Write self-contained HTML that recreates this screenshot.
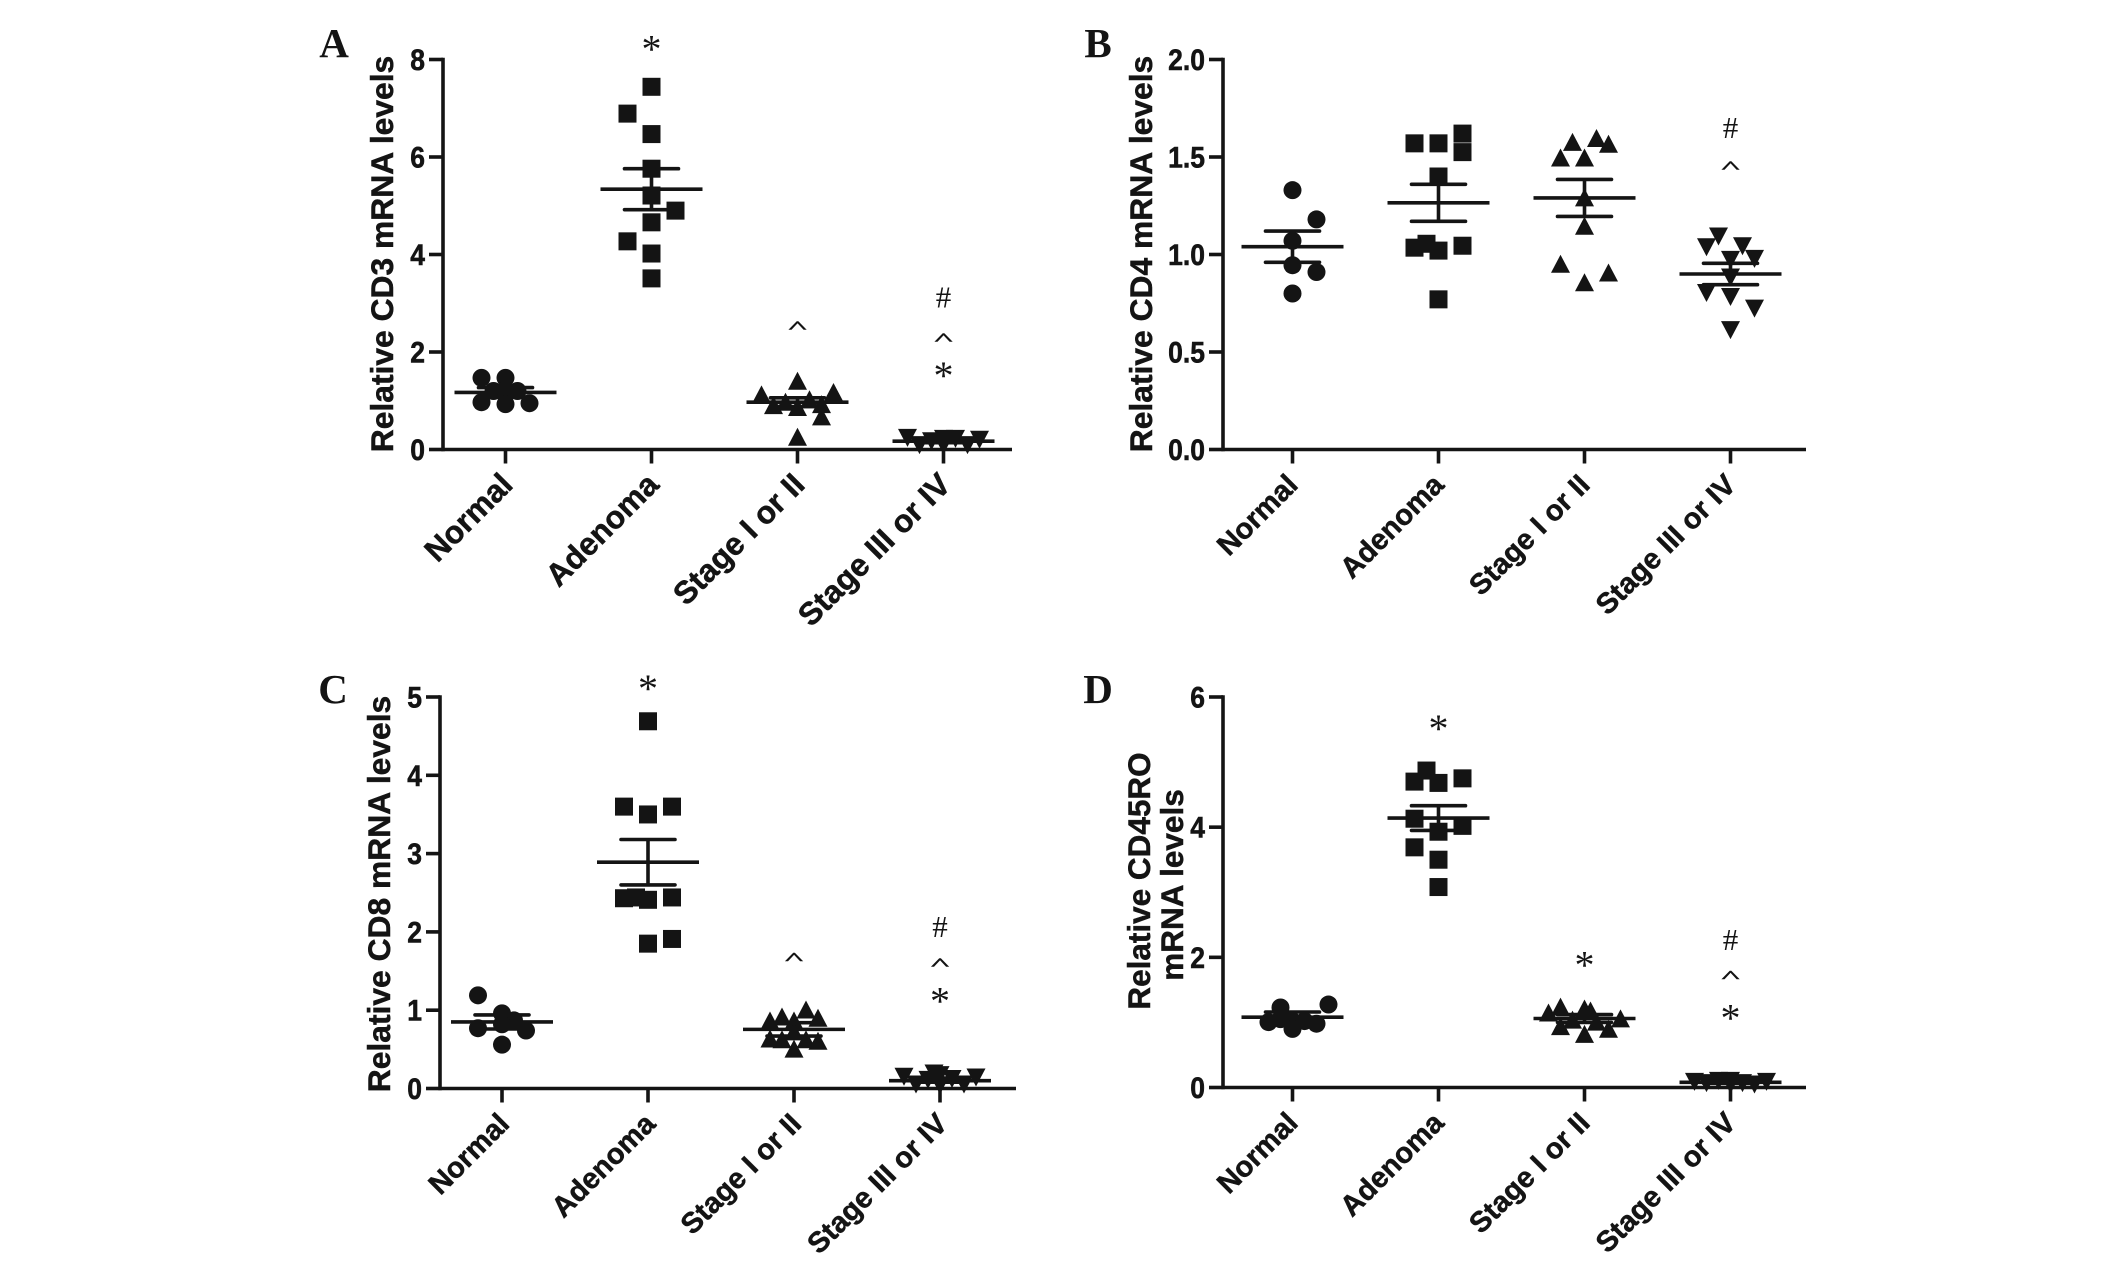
<!DOCTYPE html>
<html lang="en">
<head>
<meta charset="utf-8">
<title>Relative mRNA levels</title>
<style>
html,body{margin:0;padding:0;background:#fff;}
svg{display:block;}
text{fill:#141414;}
.tick{font:bold 26.5px "Liberation Sans",sans-serif;stroke:#141414;stroke-width:.5px;}
.title{font:bold 31.8px "Liberation Sans",sans-serif;stroke:#141414;stroke-width:.5px;}
.cat{font:bold 28px "Liberation Sans",sans-serif;stroke:#141414;stroke-width:.5px;}
.letter{font:bold 41px "Liberation Serif",serif;}
.mark{font-family:"Liberation Serif",serif;}
</style>
</head>
<body>
<svg id="figure" width="2126" height="1278" viewBox="0 0 2126 1278" xmlns="http://www.w3.org/2000/svg">
  <rect width="2126" height="1278" fill="#fff"/>
  <g id="panel-a"></g>
  <g id="panel-b"></g>
  <g id="panel-c"></g>
  <g id="panel-d"></g>
</svg>
<script>
// Shared category labels
const categories = ['Normal', 'Adenoma', 'Stage I or II', 'Stage III or IV'];

// Panel A: CD3
const aTicks = [0, 2, 4, 6, 8];
const aNormal = [1.47, 1.47, 1.2, 1.2, 1.22, 0.97, 0.93, 0.95];
const aNormalSlots = [-1, 0, -0.5, 0.5, 0, -1, 0, 1];
const aAdenoma = [7.44, 6.89, 6.47, 5.76, 5.21, 4.9, 4.66, 4.27, 4.02, 3.51];
const aAdenomaSlots = [0, -1, 0, 0, 0, 1, 0, -1, 0, 0];
const aEarly = [1.38, 1.15, 1.1, 1.0, 0.95, 0.9, 0.88, 0.84, 0.65, 0.23];
const aEarlySlots = [0, 1.5, -1.5, 0.5, -0.5, 1, -1, 0, 1, 0];
const aLate = [0.27, 0.25, 0.25, 0.23, 0.2, 0.12, 0.12, 0.12];
const aLateSlots = [-1.5, 0, 0.5, 1.5, -0.5, -1, 1, 0];
const aMeans = [1.17, 5.34, 0.97, 0.17];
const aSems = [0.1, 0.42, 0.09, 0.03];
const aMarkText = ['*', '^', '#', '^', '*'];
const aMarkCategory = [1, 2, 3, 3, 3];
const aMarkValue = [8.33, 2.54, 3.12, 2.3, 1.63];

// Panel B: CD4
const bTicks = [0, 0.5, 1, 1.5, 2];
const bNormal = [1.33, 1.18, 1.07, 0.945, 0.91, 0.8];
const bNormalSlots = [0, 1, 0, 0, 1, 0];
const bAdenoma = [1.62, 1.57, 1.57, 1.525, 1.4, 1.055, 1.045, 1.035, 1.02, 0.77];
const bAdenomaSlots = [1, -1, 0, 1, 0, -0.5, 1, -1, 0, 0];
const bEarly = [1.59, 1.57, 1.56, 1.49, 1.49, 1.285, 1.14, 0.945, 0.9, 0.85];
const bEarlySlots = [0.5, -0.5, 1, -1, 0, 0, 0, -1, 1, 0];
const bLate = [1.1, 1.05, 1.045, 0.985, 0.98, 0.89, 0.81, 0.79, 0.73, 0.62];
const bLateSlots = [-0.5, 0.5, -1, 1, 0, 0, -1, 0, 1, 0];
const bMeans = [1.04, 1.265, 1.29, 0.9];
const bSems = [0.08, 0.095, 0.095, 0.055];
const bMarkText = ['#', '^'];
const bMarkCategory = [3, 3];
const bMarkValue = [1.65, 1.457];

// Panel C: CD8
const cTicks = [0, 1, 2, 3, 4, 5];
const cNormal = [1.19, 0.96, 0.87, 0.82, 0.77, 0.74, 0.56];
const cNormalSlots = [-1, 0, 0.5, 0, -1, 1, 0];
const cAdenoma = [4.69, 3.6, 3.6, 3.5, 2.44, 2.44, 2.43, 2.41, 1.91, 1.85];
const cAdenomaSlots = [0, -1, 1, 0, -0.5, 1, -1, 0, 1, 0];
const cEarly = [0.99, 0.9, 0.885, 0.85, 0.85, 0.71, 0.62, 0.61, 0.61, 0.59, 0.49];
const cEarlySlots = [0.5, -0.5, 1, -1, 0, 0, -1, -0.5, 0.5, 1, 0];
const cLate = [0.21, 0.19, 0.17, 0.16, 0.14, 0.13, 0.07, 0.07, 0.06];
const cLateSlots = [-0.25, 0, -1.5, 1.5, 0.5, -0.5, -1, 1, 0];
const cMeans = [0.85, 2.89, 0.755, 0.1];
const cSems = [0.09, 0.29, 0.085, 0.02];
const cMarkText = ['*', '^', '#', '^', '*'];
const cMarkCategory = [1, 2, 3, 3, 3];
const cMarkValue = [5.18, 1.68, 2.06, 1.61, 1.19];

// Panel D: CD45RO
const dTicks = [0, 2, 4, 6];
const dNormal = [1.275, 1.23, 1.05, 1.02, 1.02, 1.005, 0.98, 0.9];
const dNormalSlots = [1.5, -0.5, -0.5, 0, 0.5, -1, 1, 0];
const dAdenoma = [4.87, 4.75, 4.7, 4.68, 4.13, 4.02, 3.93, 3.69, 3.5, 3.08];
const dAdenomaSlots = [-0.5, 1, -1, 0, -1, 1, 0, -1, 0, 0];
const dEarly = [1.22, 1.19, 1.16, 1.13, 1.04, 1.02, 0.99, 0.92, 0.88, 0.8];
const dEarlySlots = [-1, 0, 0.25, -1.5, 1.5, -0.5, 0.5, -1, 1, 0];
const dLate = [0.125, 0.125, 0.11, 0.11, 0.09, 0.09, 0.07, 0.07];
const dLateSlots = [-0.5, 0, -1.5, 1.5, 0.5, -1, 1, 0];
const dMeans = [1.08, 4.14, 1.06, 0.08];
const dSems = [0.08, 0.19, 0.06, 0.015];
const dMarkText = ['*', '*', '#', '^', '*'];
const dMarkCategory = [1, 2, 3, 3, 3];
const dMarkValue = [5.6, 1.97, 2.27, 1.73, 1.15];

const NS = 'http://www.w3.org/2000/svg';
const INK = '#141414';

function make(tag, attrs, parent) {
  const el = document.createElementNS(NS, tag);
  for (const k in attrs) el.setAttribute(k, attrs[k]);
  parent.appendChild(el);
  return el;
}

function drawMarker(parent, shape, cx, cy) {
  let el;
  if (shape === 'circle') {
    el = make('circle', {cx: cx, cy: cy, r: 9, fill: INK}, parent);
  } else if (shape === 'square') {
    el = make('rect', {x: cx - 9, y: cy - 9, width: 18, height: 18, fill: INK}, parent);
  } else if (shape === 'up') {
    el = make('polygon', {points: [[cx, cy - 10.5], [cx + 9.5, cy + 7.5], [cx - 9.5, cy + 7.5]].join(' '), fill: INK}, parent);
  } else {
    el = make('polygon', {points: [[cx, cy + 10.5], [cx + 9.5, cy - 7.5], [cx - 9.5, cy - 7.5]].join(' '), fill: INK}, parent);
  }
  
  
}

function drawPanel(p) {
  const g = document.getElementById(p.id);
  const yOf = v => p.bottom - (v / p.ticks[p.ticks.length - 1]) * (p.bottom - p.top);
  const xOf = (cat, slot) => p.cat0 + p.catStep * cat + (slot || 0) * 24;
  const W = 3.6;

  const letter = make('text', {x: p.letterX, y: p.letterY, 'text-anchor': 'middle', class: 'letter'}, g);
  
  
  letter.textContent = p.letter;

  const yAxis = make('line', {x1: p.left, x2: p.left, y1: p.top - 1.8, y2: p.bottom + 1.8, stroke: INK, 'stroke-width': W}, g);
  
  
  const xAxis = make('line', {x1: p.left, x2: p.right, y1: p.bottom, y2: p.bottom, stroke: INK, 'stroke-width': W}, g);
  
  

  p.ticks.forEach(t => {
    const y = yOf(t);
    const tk = make('line', {x1: p.left - 14, x2: p.left, y1: y, y2: y, stroke: INK, 'stroke-width': W}, g);
    
    
    const lb = make('text', {
      transform: 'translate(' + (p.left - 18) + ',' + (y + 10.5) + ') scale(1,1.12)',
      'text-anchor': 'end', class: 'tick'
    }, g);
    
    
    lb.textContent = p.tickFormat(t);
  });

  p.titleLines.forEach((line, i) => {
    const t = make('text', {
      transform: 'translate(' + line.x + ',' + line.y + ') rotate(-90)',
      'text-anchor': 'middle', class: 'title', style: 'font-size:' + line.size + 'px'
    }, g);
    
    
    t.textContent = line.text;
  });

  categories.forEach((c, i) => {
    const x = xOf(i);
    const tk = make('line', {x1: x, x2: x, y1: p.bottom, y2: p.bottom + 14, stroke: INK, 'stroke-width': W}, g);
    
    
    const lb = make('text', {
      transform: 'translate(' + (x + p.catOffset) + ',' + (p.bottom + 37) + ') rotate(-45)',
      'text-anchor': 'end', class: 'cat', style: 'font-size:' + p.catSize + 'px'
    }, g);
    
    
    lb.textContent = c;
  });

  p.series.forEach((s, i) => {
    s.values.forEach((v, j) => drawMarker(g, s.shape, xOf(i, s.slots[j]), yOf(v)));
  });

  p.means.forEach((m, i) => {
    const x = xOf(i);
    const sem = p.sems[i];
    const mean = make('line', {x1: x - 51, x2: x + 51, y1: yOf(m), y2: yOf(m), stroke: INK, 'stroke-width': W}, g);
    
    
    const bar = make('line', {x1: x, x2: x, y1: yOf(m + sem), y2: yOf(m - sem), stroke: INK, 'stroke-width': W}, g);
    
    
    const capHi = make('line', {x1: x - 27, x2: x + 27, y1: yOf(m + sem), y2: yOf(m + sem), stroke: INK, 'stroke-width': W, 'stroke-linecap': 'round'}, g);
    
    
    const capLo = make('line', {x1: x - 27, x2: x + 27, y1: yOf(m - sem), y2: yOf(m - sem), stroke: INK, 'stroke-width': W, 'stroke-linecap': 'round'}, g);
    
    
  });

  p.markText.forEach((sym, i) => {
    const x = xOf(p.markCategory[i]);
    const y = yOf(p.markValue[i]);
    let size = 40, dy = 19, sy = 1, sx = 1, sw = 0;
    if (sym === '#') { size = 31; dy = 10; }
    if (sym === '^') { size = 30; dy = 7; sx = 1.25; sy = 0.55; sw = 0.9; }
    const t = make('text', {
      transform: 'translate(' + x + ',' + (y + dy) + ') scale(' + sx + ',' + sy + ')',
      'text-anchor': 'middle', class: 'mark', stroke: INK, 'stroke-width': sw, style: 'font-size:' + size + 'px'
    }, g);
    
    
    t.textContent = sym;
  });
}

const intFmt = t => String(t);
const oneDec = t => t.toFixed(1);

drawPanel({
  id: 'panel-a', letter: 'A', letterX: 334, letterY: 57,
  left: 443, right: 1012, top: 59.5, bottom: 449.5, cat0: 505.5, catStep: 146, catSize: 31.6, catOffset: 9,
  ticks: aTicks, tickFormat: intFmt,
  titleLines: [{text: 'Relative CD3 mRNA levels', x: 393, y: 254, size: 31.8}],
  series: [
    {shape: 'circle', values: aNormal, slots: aNormalSlots},
    {shape: 'square', values: aAdenoma, slots: aAdenomaSlots},
    {shape: 'up', values: aEarly, slots: aEarlySlots},
    {shape: 'down', values: aLate, slots: aLateSlots}
  ],
  means: aMeans, sems: aSems,
  markText: aMarkText, markCategory: aMarkCategory, markValue: aMarkValue
});

drawPanel({
  id: 'panel-b', letter: 'B', letterX: 1098, letterY: 57,
  left: 1223, right: 1806, top: 59.5, bottom: 449.5, cat0: 1292.5, catStep: 146, catSize: 29, catOffset: 7,
  ticks: bTicks, tickFormat: oneDec,
  titleLines: [{text: 'Relative CD4 mRNA levels', x: 1152, y: 254, size: 31.8}],
  series: [
    {shape: 'circle', values: bNormal, slots: bNormalSlots},
    {shape: 'square', values: bAdenoma, slots: bAdenomaSlots},
    {shape: 'up', values: bEarly, slots: bEarlySlots},
    {shape: 'down', values: bLate, slots: bLateSlots}
  ],
  means: bMeans, sems: bSems,
  markText: bMarkText, markCategory: bMarkCategory, markValue: bMarkValue
});

drawPanel({
  id: 'panel-c', letter: 'C', letterX: 333, letterY: 703,
  left: 440, right: 1016, top: 697, bottom: 1088.5, cat0: 502, catStep: 146, catSize: 29, catOffset: 9,
  ticks: cTicks, tickFormat: intFmt,
  titleLines: [{text: 'Relative CD8 mRNA levels', x: 390, y: 894, size: 31.8}],
  series: [
    {shape: 'circle', values: cNormal, slots: cNormalSlots},
    {shape: 'square', values: cAdenoma, slots: cAdenomaSlots},
    {shape: 'up', values: cEarly, slots: cEarlySlots},
    {shape: 'down', values: cLate, slots: cLateSlots}
  ],
  means: cMeans, sems: cSems,
  markText: cMarkText, markCategory: cMarkCategory, markValue: cMarkValue
});

drawPanel({
  id: 'panel-d', letter: 'D', letterX: 1098, letterY: 703,
  left: 1223, right: 1806, top: 697, bottom: 1087.5, cat0: 1292.5, catStep: 146, catSize: 29, catOffset: 7,
  ticks: dTicks, tickFormat: intFmt,
  titleLines: [
    {text: 'Relative CD45RO', x: 1150, y: 881, size: 31.5},
    {text: 'mRNA levels', x: 1183, y: 885, size: 31.5}
  ],
  series: [
    {shape: 'circle', values: dNormal, slots: dNormalSlots},
    {shape: 'square', values: dAdenoma, slots: dAdenomaSlots},
    {shape: 'up', values: dEarly, slots: dEarlySlots},
    {shape: 'down', values: dLate, slots: dLateSlots}
  ],
  means: dMeans, sems: dSems,
  markText: dMarkText, markCategory: dMarkCategory, markValue: dMarkValue
});
</script>
</body>
</html>
